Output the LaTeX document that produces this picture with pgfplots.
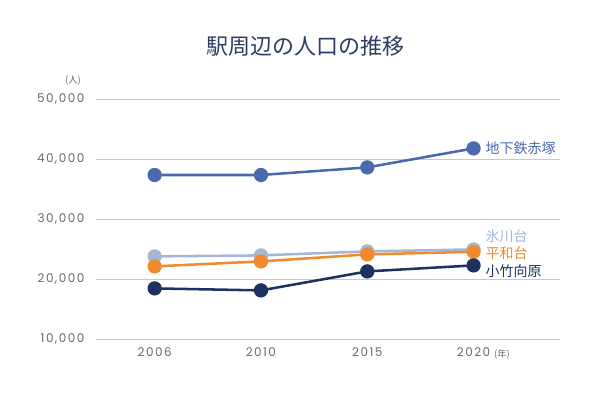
\documentclass[border=0pt]{standalone}
\usepackage{fontspec}
\usepackage{pgfplots}
\pgfplotsset{compat=1.18}
\setmainfont{Noto Sans CJK JP}
\newfontfamily\jp{Noto Sans CJK JP}
\newfontfamily\numfont[LetterSpace=12]{Poppins}
\definecolor{cA}{HTML}{4A69AE}
\definecolor{cB}{HTML}{A6B6D8}
\definecolor{cC}{HTML}{EF8A2D}
\definecolor{cD}{HTML}{1C3362}
\definecolor{ttl}{HTML}{2C3D60}
\definecolor{tickc}{HTML}{6A6A6A}
\definecolor{gridc}{HTML}{C9C9C9}
\begin{document}
\begin{tikzpicture}[x=0.75pt,y=0.75pt]
\path[use as bounding box] (0,0) rectangle (600,400);
\node[text=ttl, font=\jp\fontsize{16.5}{18}\selectfont] at (305,354) {駅周辺の人口の推移};
\begin{axis}[
  at={(90,101)}, anchor=south west,
  scale only axis, width=348pt, height=180pt,
  xmin=-0.555, xmax=3.81, ymin=10000, ymax=50000,
  xtick={0,1,2,3}, xticklabels={2006,2010,2015,2020},
  ytick={10000,20000,30000,40000,50000},
  ymajorgrids, xmajorgrids=false, grid style={gridc, line width=0.8pt},
  axis line style={draw=none}, major tick length=0pt,
  /pgf/number format/assume math mode=true,
  /pgf/number format/1000 sep={,},
  scaled y ticks=false,
  tick label style={text=tickc, font=\numfont\fontsize{9}{10}\selectfont},
  yticklabel style={xshift=-5pt},
  xticklabel style={yshift=-3pt},
  clip=false,
  every axis plot/.append style={line width=1.9pt, mark=*, mark size=4.4pt},
]
\addplot[cB, mark options={fill=cB, draw=cB}] coordinates {(0,23833) (1,24000) (2,24667) (3,25000)};
\addplot[cC, mark options={fill=cC, draw=cC}] coordinates {(0,22167) (1,23000) (2,24167) (3,24600)};
\addplot[cD, mark options={fill=cD, draw=cD}] coordinates {(0,18500) (1,18167) (2,21333) (3,22333)};
\addplot[cA, mark options={fill=cA, draw=cA}] coordinates {(0,37400) (1,37400) (2,38667) (3,41833)};
\node[anchor=west, text=cA, font=\jp\fontsize{10.5}{12}\selectfont] at (axis cs:3.07,41833) {地下鉄赤塚};
\node[anchor=west, text=cB, font=\jp\fontsize{10.5}{12}\selectfont] at (axis cs:3.07,27167) {氷川台};
\node[anchor=west, text=cC, font=\jp\fontsize{10.5}{12}\selectfont] at (axis cs:3.07,24333) {平和台};
\node[anchor=west, text=cD, font=\jp\fontsize{10.5}{12}\selectfont] at (axis cs:3.07,21333) {小竹向原};
\end{axis}
\node[text=tickc, font=\jp\fontsize{7}{8}\selectfont] at (73,319) {(人)};
\node[text=tickc, font=\jp\fontsize{7}{8}\selectfont] at (502,46) {(年)};
\end{tikzpicture}
\end{document}
